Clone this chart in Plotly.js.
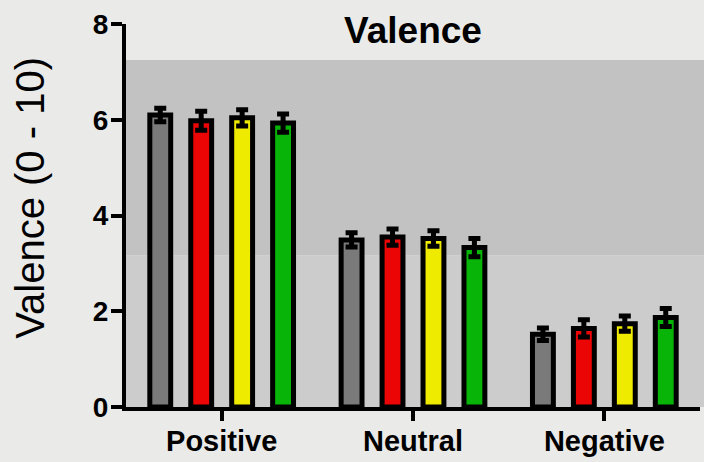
<!DOCTYPE html>
<html>
<head>
<meta charset="utf-8">
<script src="https://cdn.plot.ly/plotly-3.0.1.min.js"></script>
<style>
  html, body { margin: 0; padding: 0; background: #eaeae9; }
  #chart { width: 704px; height: 462px; }
</style>
</head>
<body>
<div id="chart"></div>
<script>
const categories = ["Positive", "Neutral", "Negative"];
const seriesNames = ["Gray", "Red", "Yellow", "Green"];
const seriesColors = ["#7a7a7a", "#ec0505", "#eeea00", "#08b408"];
const grayMeans = [6.10, 3.49, 1.52];
const grayErr = [0.14, 0.15, 0.13];
const redMeans = [5.98, 3.55, 1.64];
const redErr = [0.20, 0.17, 0.18];
const yellowMeans = [6.04, 3.52, 1.74];
const yellowErr = [0.17, 0.16, 0.16];
const greenMeans = [5.93, 3.33, 1.87];
const greenErr = [0.19, 0.19, 0.19];
const yTickVals = [0, 2, 4, 6, 8];
const darkBand = [3.17, 7.25];
const yTitle = "Valence (0 - 10)";

const means = [grayMeans, redMeans, yellowMeans, greenMeans];
const errs = [grayErr, redErr, yellowErr, greenErr];

const font = "'Liberation Sans', Arial, Helvetica, sans-serif";

const traces = means.map((m, i) => ({
  type: "bar",
  name: seriesNames[i],
  x: categories,
  y: m,
  marker: { color: seriesColors[i], line: { color: "#000", width: 5 } },
  error_y: { type: "data", array: errs[i], visible: true, color: "#000", thickness: 5, width: 6 },
  hoverinfo: "x+y"
}));

const layout = {
  width: 704,
  height: 462,
  margin: { l: 126, r: 4, t: 24, b: 55 },
  paper_bgcolor: "#eaeae9",
  plot_bgcolor: "rgba(0,0,0,0)",
  showlegend: false,
  barmode: "group",
  bargap: 0.144,
  bargroupgap: 0.49,
  title: {
    text: "<b>Valence</b>",
    font: { family: font, size: 37, color: "#000" },
    x: 0.5, xref: "paper", xanchor: "center",
    y: 0.935, yref: "container", yanchor: "middle"
  },
  xaxis: {
    type: "category",
    range: [-0.5, 2.5],
    showline: true, linecolor: "#000", linewidth: 4,
    ticks: "outside", ticklen: 10, tickwidth: 4, tickcolor: "#000",
    ticklabelstandoff: -5,
    tickfont: { family: font, size: 29, color: "#000", weight: "bold" },
    showgrid: false, zeroline: false, fixedrange: true
  },
  yaxis: {
    range: [0, 8],
    tickvals: yTickVals,
    ticktext: yTickVals.map(v => String(v)),
    showline: true, linecolor: "#000", linewidth: 4,
    ticks: "outside", ticklen: 11, tickwidth: 4, tickcolor: "#000",
    ticklabelstandoff: -3,
    tickfont: { family: font, size: 28, color: "#000", weight: "bold" },
    showgrid: false, zeroline: false, fixedrange: true
  },
  annotations: [
    { text: yTitle, xref: "paper", yref: "paper", x: -0.167, y: 0.547,
      xanchor: "center", yanchor: "middle", textangle: -90, showarrow: false,
      font: { family: font, size: 40, color: "#000" } }
  ],
  shapes: [
    { type: "rect", layer: "below", xref: "paper", yref: "y", x0: 0, x1: 1.01, y0: 0, y1: darkBand[0],
      fillcolor: "#cccccc", line: { width: 0 } },
    { type: "rect", layer: "below", xref: "paper", yref: "y", x0: 0, x1: 1.01, y0: darkBand[0], y1: darkBand[1],
      fillcolor: "#c3c2c2", line: { width: 0 } }
  ]
};

Plotly.newPlot("chart", traces, layout, { displayModeBar: false, staticPlot: true });
</script>
</body>
</html>
